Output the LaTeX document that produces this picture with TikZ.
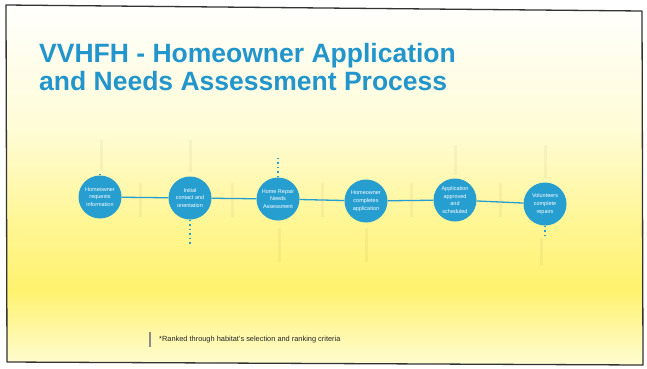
\documentclass[tikz,border=0pt]{standalone}
\usepackage{fontspec}
\setmainfont{Liberation Sans}
\definecolor{hblue}{RGB}{38,158,208}
\definecolor{titleblue}{RGB}{34,150,204}
\definecolor{paleyel}{RGB}{255,252,214}
\definecolor{midyel}{RGB}{255,246,150}
\definecolor{deepyel}{RGB}{255,242,110}
\begin{document}
\begin{tikzpicture}[x=1pt,y=-1pt,
  stepdot/.style={circle, fill=hblue, minimum size=43pt, inner sep=0pt,
    text=white, align=center, font=\fontsize{5.5}{7.8}\selectfont},
  conn/.style={draw=hblue, line width=1.3pt},
  tick/.style={draw=hblue, line width=1.1pt, dash pattern=on 1.5pt off 3pt},
  ghost/.style={draw=black, line width=3pt, opacity=0.035},
  titletext/.style={anchor=base west, inner sep=0pt, text=titleblue,
    font=\fontsize{26.5}{28}\selectfont\bfseries}]
\useasboundingbox (0,0) rectangle (647,368);
\fill[white] (0,0) rectangle (647,368);

% slide background: white at the top, yellow towards the bottom
\begin{scope}
  \clip (6,5) -- (642,11) -- (643,365) -- (7,362) -- cycle;
  \shade[top color=white, bottom color=paleyel] (0,0) rectangle (647,130);
  \shade[top color=paleyel, bottom color=midyel] (0,129.5) rectangle (647,220);
  \shade[top color=midyel, bottom color=deepyel] (0,219.5) rectangle (647,290);
  \shade[top color=deepyel, bottom color=paleyel] (0,289.5) rectangle (647,368);
  % faint show-through strokes
  \draw[ghost] (101,140) -- (101,170);
  \draw[ghost] (140,183) -- (140,217);
  \draw[ghost] (190,140) -- (190,172);
  \draw[ghost] (232,183) -- (232,217);
  \draw[ghost] (279,228) -- (279,262);
  \draw[ghost] (322,183) -- (322,217);
  \draw[ghost] (366,228) -- (366,262);
  \draw[ghost] (411,183) -- (411,217);
  \draw[ghost] (455,145) -- (455,175);
  \draw[ghost] (500,183) -- (500,217);
  \draw[ghost] (545,145) -- (545,178);
  \draw[ghost] (541,238) -- (541,265);
\end{scope}

% slide frame
\draw[line width=1.3pt, black!80, line join=round] (6,5) -- (642,11) -- (643,365) -- (7,362) -- cycle;

% title
\node[titletext] (title1) at (39,62) {VVHFH - Homeowner Application};
\node[titletext] (title2) at (39,90) {and Needs Assessment Process};

% process steps
\node[stepdot] (s1) at (100,197) {Homeowner\\requests\\information};
\node[stepdot] (s2) at (190,198) {Initial\\contact and\\orientation};
\node[stepdot] (s3) at (278,199) {Home Repair\\Needs\\Assessment};
\node[stepdot] (s4) at (366,201) {Homeowner\\completes\\application};
\node[stepdot] (s5) at (455,200) {Application\\approved\\and\\scheduled};
\node[stepdot] (s6) at (545,204) {Volunteers\\complete\\repairs};

\draw[conn] (s1) -- (s2);
\draw[conn] (s2) -- (s3);
\draw[conn] (s3) -- (s4);
\draw[conn] (s4) -- (s5);
\draw[conn] (s5) -- (s6);

% short dotted markers
\coordinate (m1) at (100,172);
\coordinate (m2) at (190,246);
\coordinate (m3) at (278,158);
\coordinate (m6) at (545,238);
\draw[tick] (s1.north) -- (m1);
\draw[tick] (s2.south) -- (m2);
\draw[tick] (s3.north) -- (m3);
\draw[tick] (s6.south) -- (m6);

% footnote
\draw[black!45, line width=1.5pt] (150,332) -- (150,347);
\node[anchor=west, inner sep=0pt, text=black!85, font=\fontsize{7.4}{8}\selectfont]
  (note) at (159,340) {*Ranked through habitat's selection and ranking criteria};
\end{tikzpicture}
\end{document}
